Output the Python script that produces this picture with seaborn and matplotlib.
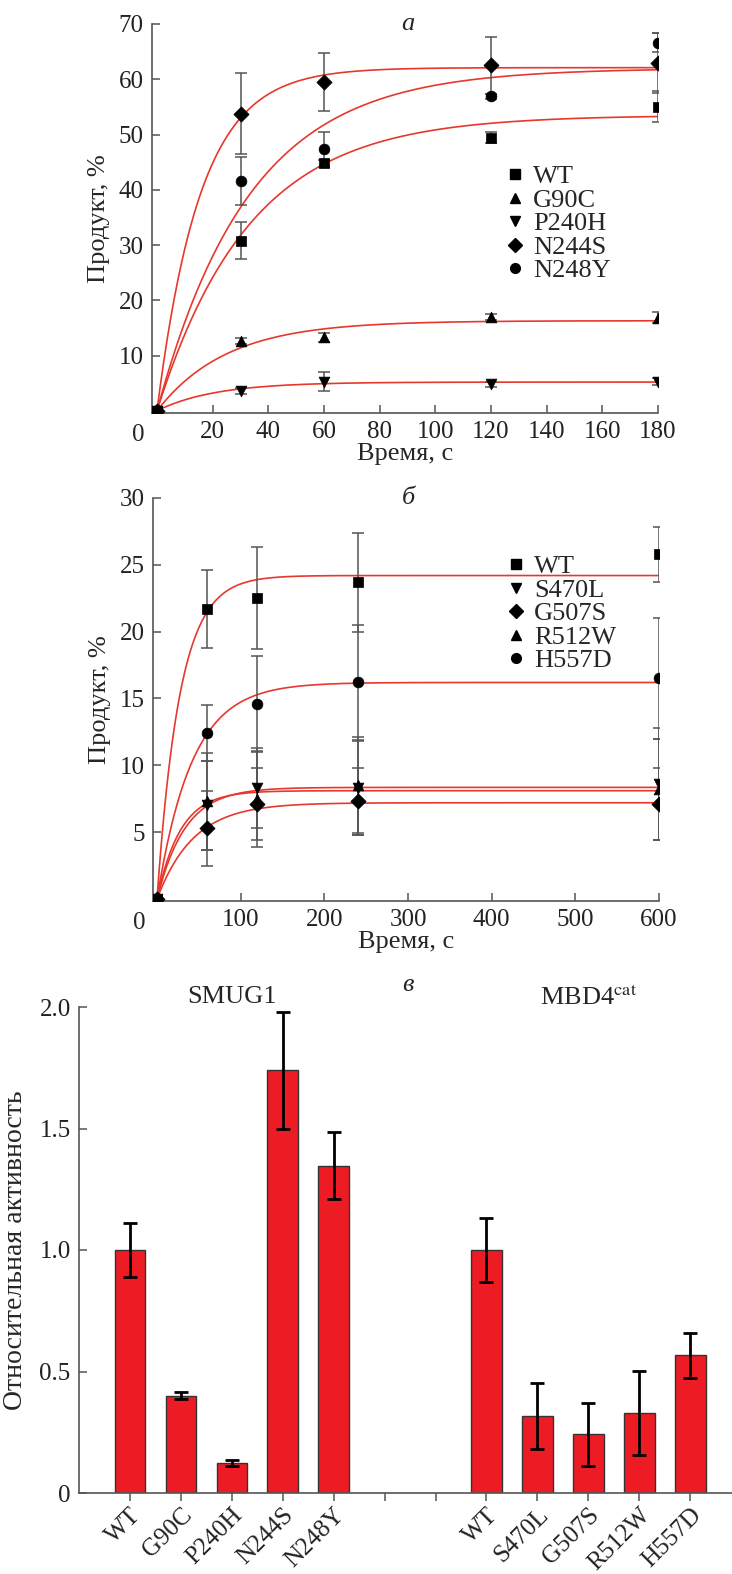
import numpy as np
import pandas as pd
import matplotlib
matplotlib.use("Agg")
import matplotlib.pyplot as plt
import seaborn as sns

# ---- panel a: SMUG1 time course ----
time_a = [0, 30, 60, 120, 180]
names_a = ["WT", "G90C", "P240H", "N244S", "N248Y"]
markers_a = ["s", "^", "v", "D", "o"]
wt_a = [0, 30.8, 44.8, 49.4, 55.0]
wt_a_err = [0, 3.4, 0.6, 1.0, 2.8]
g90c_a = [0, 12.6, 13.3, 17.0, 16.8]
g90c_a_err = [0, 0.6, 0.8, 0.6, 1.0]
p240h_a = [0, 3.6, 5.3, 4.8, 5.3]
p240h_a_err = [0, 0.6, 1.8, 0.5, 0.6]
n244s_a = [0, 53.8, 59.5, 62.5, 63.0]
n244s_a_err = [0, 7.4, 5.2, 5.2, 5.4]
n248y_a = [0, 41.6, 47.3, 56.9, 66.6]
n248y_a_err = [0, 4.4, 3.2, 0.5, 1.7]
fit_a_amp = [53.5, 16.3, 5.2, 62.1, 62.0]
fit_a_rate = [0.030, 0.040, 0.048, 0.064, 0.030]

# ---- panel b: MBD4cat time course ----
time_b = [0, 60, 120, 240, 600]
names_b = ["WT", "S470L", "G507S", "R512W", "H557D"]
markers_b = ["s", "v", "D", "^", "o"]
wt_b = [0, 21.7, 22.5, 23.7, 25.8]
wt_b_err = [0, 2.9, 3.8, 3.7, 2.05]
s470l_b = [0, 7.0, 8.3, 8.3, 8.6]
s470l_b_err = [0, 3.3, 3.0, 3.5, 4.2]
g507s_b = [0, 5.3, 7.1, 7.3, 7.1]
g507s_b_err = [0, 2.8, 2.7, 2.5, 2.7]
r512w_b = [0, 7.3, 7.5, 8.5, 8.2]
r512w_b_err = [0, 3.6, 3.6, 3.6, 3.8]
h557d_b = [0, 12.4, 14.6, 16.2, 16.5]
h557d_b_err = [0, 2.1, 3.6, 4.3, 4.5]
fit_b_amp = [24.2, 8.35, 7.2, 8.1, 16.2]
fit_b_rate = [0.0365, 0.030, 0.023, 0.036, 0.024]

# ---- panel c: relative activity ----
smug_labels = ["WT", "G90C", "P240H", "N244S", "N248Y"]
smug_vals = [1.0, 0.40, 0.124, 1.74, 1.347]
smug_err = [0.11, 0.015, 0.012, 0.24, 0.137]
mbd_labels = ["WT", "S470L", "G507S", "R512W", "H557D"]
mbd_vals = [1.0, 0.317, 0.242, 0.33, 0.566]
mbd_err = [0.133, 0.135, 0.13, 0.173, 0.094]

RED = "#e8372c"
BAR_RED = "#ed1c24"
GREY = "#555555"
FS = 19
TFS = 18

sns.set_theme(style="ticks")
plt.rcParams["font.family"] = ["Liberation Serif", "DejaVu Serif"]
plt.rcParams["mathtext.fontset"] = "stix"
plt.rcParams["axes.edgecolor"] = GREY
plt.rcParams["axes.linewidth"] = 1.2
plt.rcParams["xtick.color"] = GREY
plt.rcParams["ytick.color"] = GREY
plt.rcParams["xtick.labelcolor"] = "#222222"
plt.rcParams["ytick.labelcolor"] = "#222222"

W, H = 732, 1574
fig = plt.figure(figsize=(W / 100, H / 100), dpi=100)


def px_axes(left, top, right, bottom):
    return fig.add_axes([left / W, 1 - bottom / H, (right - left) / W, (bottom - top) / H])


def kinetics_panel(ax, t, series, errs, names, markers, amps, rates, tmax):
    tt = np.linspace(0, tmax, 300)
    for a, k in zip(amps, rates):
        sns.lineplot(x=tt, y=a * (1 - np.exp(-k * tt)), ax=ax, color=RED, lw=1.2, zorder=2)
    for y, e in zip(series, errs):
        ax.errorbar(t, y, yerr=e, fmt="none", ecolor=GREY, elinewidth=1.1,
                    capsize=4, capthick=1.1, zorder=3)
    handles = []
    for y, name, m in zip(series, names, markers):
        sns.scatterplot(x=t, y=y, ax=ax, marker=m, color="black", s=60,
                        edgecolor="black", linewidth=0.5, zorder=4)
        handles.append(plt.Line2D([], [], ls="none", marker=m, color="black", markersize=7, label=name))
    ax.tick_params(direction="in", length=6, width=1.1, labelsize=TFS, pad=6)
    sns.despine(ax=ax)
    return handles


# panel a
ax1 = px_axes(152, 24, 658, 413)
h1 = kinetics_panel(ax1, time_a, [wt_a, g90c_a, p240h_a, n244s_a, n248y_a],
                    [wt_a_err, g90c_a_err, p240h_a_err, n244s_a_err, n248y_a_err],
                    names_a, markers_a, fit_a_amp, fit_a_rate, 180)
ax1.set_xlim(-1.8, 180)
ax1.set_ylim(-0.4, 70)
ax1.set_xticks(range(20, 181, 20))
ax1.set_yticks(range(10, 71, 10))
ax1.set_xlabel("Время, с", fontsize=FS, labelpad=0)
ax1.set_ylabel("Продукт, %", fontsize=FS, labelpad=6)
ax1.annotate("0", xy=(0, 0), xycoords="axes fraction", xytext=(-14, -22),
             textcoords="offset pixels", ha="center", va="center", fontsize=TFS)
ax1.text(90, 70, "а", style="italic", fontsize=FS, ha="center", va="center")
ax1.legend(handles=h1, loc="upper left", bbox_to_anchor=(0.68, 0.665), frameon=False,
           fontsize=FS, handlelength=0.6, handletextpad=0.4, labelspacing=0.0,
           borderaxespad=0)

# panel b
ax2 = px_axes(153, 498, 659, 901)
h2 = kinetics_panel(ax2, time_b, [wt_b, s470l_b, g507s_b, r512w_b, h557d_b],
                    [wt_b_err, s470l_b_err, g507s_b_err, r512w_b_err, h557d_b_err],
                    names_b, markers_b, fit_b_amp, fit_b_rate, 600)
ax2.set_xlim(-4.8, 600)
ax2.set_ylim(-0.15, 30)
ax2.set_xticks(range(100, 601, 100))
ax2.set_yticks(range(5, 31, 5))
ax2.set_xlabel("Время, с", fontsize=FS, labelpad=0)
ax2.set_ylabel("Продукт, %", fontsize=FS, labelpad=6)
ax2.annotate("0", xy=(0, 0), xycoords="axes fraction", xytext=(-14, -22),
             textcoords="offset pixels", ha="center", va="center", fontsize=TFS)
ax2.text(300, 30, "б", style="italic", fontsize=FS, ha="center", va="center")
ax2.legend(handles=h2, loc="upper left", bbox_to_anchor=(0.68, 0.885), frameon=False,
           fontsize=FS, handlelength=0.6, handletextpad=0.4, labelspacing=0.0,
           borderaxespad=0)

# panel c
ax3 = px_axes(79, 1007, 732, 1493)
keys = ["s_" + l for l in smug_labels] + ["gap1", "gap2"] + ["m_" + l for l in mbd_labels]
df = pd.DataFrame({
    "key": ["s_" + l for l in smug_labels] + ["m_" + l for l in mbd_labels],
    "val": smug_vals + mbd_vals,
    "err": smug_err + mbd_err,
})
sns.barplot(data=df, x="key", y="val", order=keys, color=BAR_RED, saturation=1,
            width=0.6, edgecolor="#333333", linewidth=1.0, ax=ax3)
pos = [keys.index(k) for k in df["key"]]
ax3.errorbar(pos, df["val"], yerr=df["err"], fmt="none", ecolor="black",
             elinewidth=2, capsize=5, capthick=2, zorder=5)
ax3.set_xlim(-1, 11.82)
ax3.set_ylim(0, 2.0)
ax3.set_yticks([0, 0.5, 1.0, 1.5, 2.0])
ax3.set_yticklabels(["0", "0.5", "1.0", "1.5", "2.0"])
ax3.set_xticks(range(len(keys)))
ax3.set_xticklabels(smug_labels + ["", ""] + mbd_labels, rotation=45, ha="right",
                    rotation_mode="anchor")
ax3.tick_params(axis="y", direction="in", length=6, width=1.1, labelsize=TFS, pad=6)
ax3.tick_params(axis="x", direction="out", length=6, width=1.1, labelsize=TFS, pad=2)
ax3.set_xlabel("")
ax3.set_ylabel("Относительная активность", fontsize=FS + 1, labelpad=8)
sns.despine(ax=ax3)
ax3.text(2, 2.04, "SMUG1", fontsize=FS, ha="center", va="center", clip_on=False)
ax3.text(9, 2.04, r"MBD4$^{\mathrm{cat}}$", fontsize=FS, ha="center", va="center", clip_on=False)
ax3.text(5.45, 2.09, "в", style="italic", fontsize=FS, ha="center", va="center", clip_on=False)

fig.savefig("out.png", dpi=100)
